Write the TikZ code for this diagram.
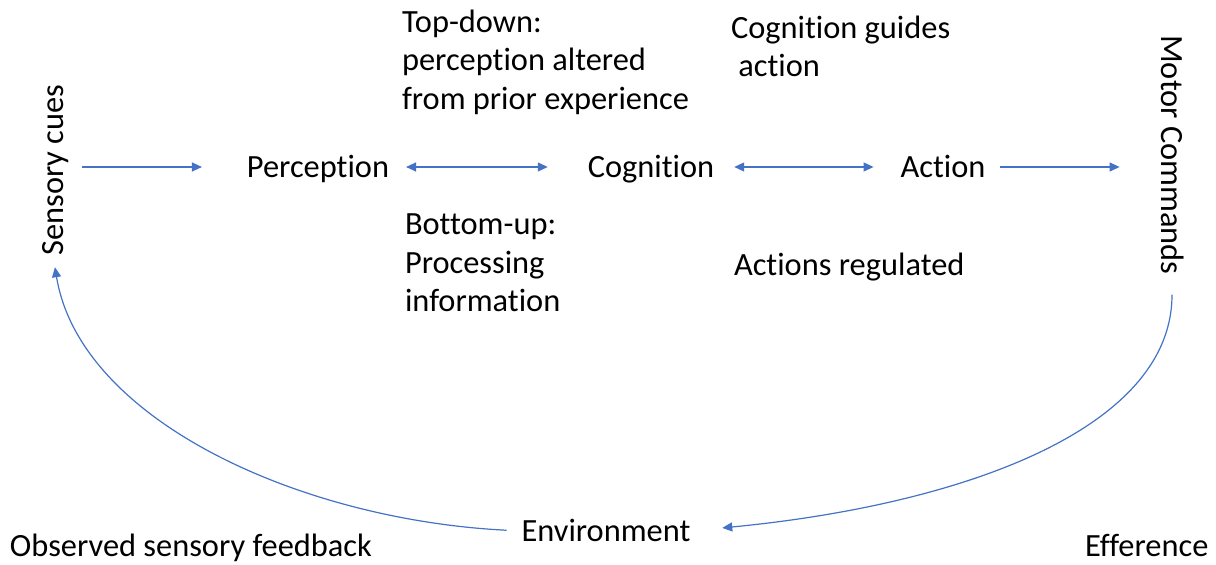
\documentclass[tikz,border=0pt]{standalone}
\usepackage{fontspec}
\setmainfont{Carlito}[Ligatures=NoCommon]
\usetikzlibrary{arrows.meta}
\usetikzlibrary{positioning}
\definecolor{lineblue}{HTML}{4472C4}
\tikzset{>={Triangle[length=5pt,width=4.5pt]}, x=0.5pt, y=-0.5pt, font=\fontsize{16.2}{19.25}\selectfont}
\tikzstyle{word} = [inner sep=0pt, outer sep=0pt, text height=13.9pt, text depth=3.5pt]
\tikzstyle{note} = [inner sep=0pt, outer sep=0pt, align=left, anchor=north west]
\tikzstyle{flow} = [->, draw=lineblue, line width=0.6pt]

\begin{document}
\begin{tikzpicture}
		\useasboundingbox (0,0) rectangle (1216,565);

		\node [word, rotate=90] (sens) at (53,170) {Sensory cues};
		\node [word] (perc) at (318,167) {Perception};
		\node [word] (cog) at (651,167) {Cognition};
		\node [word] (act) at (943,167) {Action};
		\node [word, rotate=-90] (mot) at (1172,155) {Motor Commands};
		\node [word] (env) at (606,531) {Environment};

		\node [note] (topdown) at (402,10) {Top-down:\\perception altered\\from prior experience};
		\node [note] (guides) at (731,16) {Cognition guides\\\ action};
		\node [note] (bottomup) at (405,214) {Bottom-up:\\Processing\\information};
		\node [word, anchor=west] (regulated) at (734,265) {Actions regulated};
		\node [word, anchor=west] (observed) at (10,546) {Observed sensory feedback};
		\node [word, anchor=west] (efference) at (1085,546) {Efference};

		\draw [flow, shorten <=6pt, shorten >=22.5pt] (sens.south |- perc) -- (perc.west);
		\draw [flow, <->, shorten <=8.5pt, shorten >=20pt] (perc.east) -- (cog.west);
		\draw [flow, <->, shorten <=10pt, shorten >=13.5pt] (cog.east) -- (act.west);
		\draw [flow, shorten <=7.5pt, shorten >=17.5pt] (act.east) -- (act.east -| mot.south);
		\draw [flow, shorten <=10pt, shorten >=16pt] (mot.east) .. controls (1172,430) and (960,505) .. (env.east);
		\draw [flow, shorten <=7.5pt, shorten >=6pt] (env.west) .. controls (300,520) and (80,420) .. (sens.west);
	\end{tikzpicture}
\end{document}
